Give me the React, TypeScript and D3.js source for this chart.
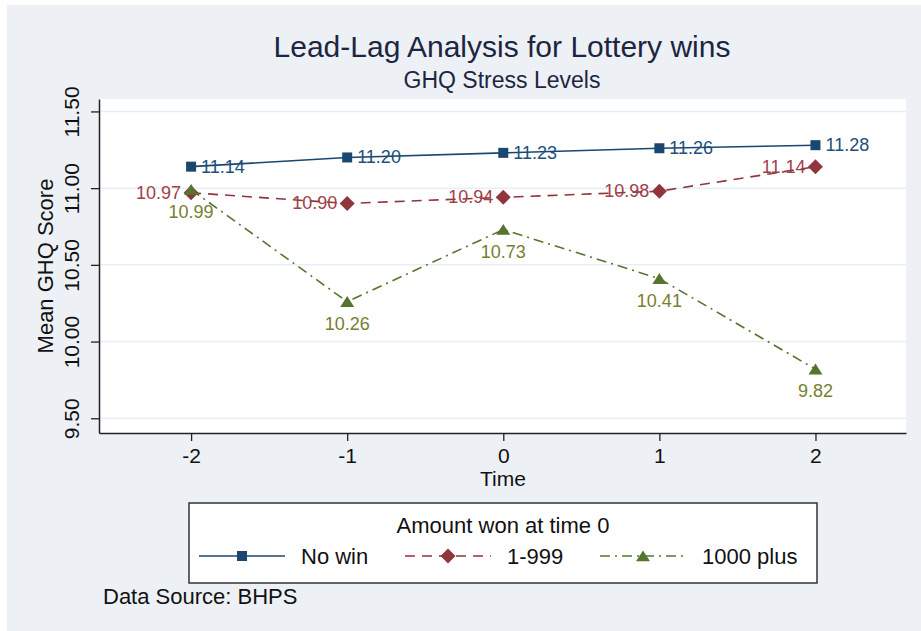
import React, { useRef, useEffect } from "react";
import * as d3 from "d3";

const times = [-2, -1, 0, 1, 2];
const noWin = [11.14, 11.2, 11.23, 11.26, 11.28];
const smallWin = [10.97, 10.9, 10.94, 10.98, 11.14];
const bigWin = [10.99, 10.26, 10.73, 10.41, 9.82];
const seriesNames = ["No win", "1-999", "1000 plus"];
const yTicks = [9.5, 10, 10.5, 11, 11.5];
const xTicks = [-2, -1, 0, 1, 2];

const FONT = "'Liberation Sans', Arial, sans-serif";

// custom marker shapes for d3.symbol (size = half-width in px)
const squareType = {
  draw(ctx: any, r: number) {
    ctx.rect(-r, -r, 2 * r, 2 * r);
  },
};
const diamondType = {
  draw(ctx: any, r: number) {
    ctx.moveTo(0, -r);
    ctx.lineTo(r, 0);
    ctx.lineTo(0, r);
    ctx.lineTo(-r, 0);
    ctx.closePath();
  },
};
const triangleType = {
  draw(ctx: any, r: number) {
    ctx.moveTo(0, -r * 0.8);
    ctx.lineTo(r, r * 0.75);
    ctx.lineTo(-r, r * 0.75);
    ctx.closePath();
  },
};

const styles = [
  { values: noWin, color: "#1a476f", label: "#1f4f7a", dash: null, symbol: squareType, size: 5, pos: "right" },
  { values: smallWin, color: "#90353b", label: "#a0404a", dash: "10,7", symbol: diamondType, size: 7.5, pos: "left" },
  { values: bigWin, color: "#55752f", label: "#77802f", dash: "10,5,2,5", symbol: triangleType, size: 7, pos: "below" },
];

const App: React.FC = () => {
  const ref = useRef<SVGSVGElement | null>(null);

  useEffect(() => {
    if (!ref.current) return;
    const svg = d3.select(ref.current);
    svg.selectAll("*").remove();

    const width = 921;
    const height = 631;
    const plot = { left: 99, right: 906, top: 99, bottom: 433 };

    svg.attr("width", width).attr("height", height).style("font-family", FONT);

    svg.append("rect").attr("width", width).attr("height", height).attr("fill", "#ffffff");
    svg
      .append("rect")
      .attr("x", 7)
      .attr("y", 5)
      .attr("width", width - 7)
      .attr("height", height - 5)
      .attr("fill", "#edf1f6");

    svg
      .append("rect")
      .attr("x", plot.left)
      .attr("y", plot.top)
      .attr("width", plot.right - plot.left)
      .attr("height", plot.bottom - plot.top)
      .attr("fill", "#ffffff");

    const x = d3.scaleLinear().domain([-2.59, 2.58]).range([plot.left, plot.right]);
    const y = d3.scaleLinear().domain([9.404, 11.581]).range([plot.bottom, plot.top]);

    // grid
    svg
      .append("g")
      .selectAll("line")
      .data(yTicks)
      .join("line")
      .attr("x1", plot.left)
      .attr("x2", plot.right)
      .attr("y1", (d) => y(d))
      .attr("y2", (d) => y(d))
      .attr("stroke", "#e8eff4")
      .attr("stroke-width", 1.5);

    // y axis
    const yAxis = svg
      .append("g")
      .attr("transform", `translate(${plot.left},0)`)
      .call(d3.axisLeft(y).tickValues(yTicks).tickFormat(d3.format(".2f")).tickSize(8).tickSizeOuter(0));
    yAxis.select(".domain").attr("stroke", "#222").attr("stroke-width", 1.5);
    yAxis.selectAll(".tick line").attr("stroke", "#222").attr("stroke-width", 1.3);
    yAxis
      .selectAll(".tick text")
      .attr("transform", "rotate(-90)")
      .attr("x", 0)
      .attr("y", -20)
      .attr("dy", 0)
      .attr("text-anchor", "middle")
      .attr("fill", "#111")
      .style("font-size", "21px")
      .style("font-family", FONT);

    // x axis
    const xAxis = svg
      .append("g")
      .attr("transform", `translate(0,${plot.bottom})`)
      .call(d3.axisBottom(x).tickValues(xTicks).tickFormat(d3.format("d")).tickSize(8).tickSizeOuter(0));
    xAxis.select(".domain").attr("stroke", "#222").attr("stroke-width", 1.5);
    xAxis.selectAll(".tick line").attr("stroke", "#222").attr("stroke-width", 1.3);
    xAxis
      .selectAll(".tick text")
      .attr("y", 30)
      .attr("dy", 0)
      .attr("fill", "#111")
      .style("font-size", "21px")
      .style("font-family", FONT)
      .text((d: any) => (d < 0 ? `-${Math.abs(d)}` : `${d}`));

    // titles
    svg
      .append("text")
      .attr("x", 502)
      .attr("y", 57)
      .attr("text-anchor", "middle")
      .attr("fill", "#1c2640")
      .style("font-size", "30px")
      .text("Lead-Lag Analysis for Lottery wins");
    svg
      .append("text")
      .attr("x", 502)
      .attr("y", 88)
      .attr("text-anchor", "middle")
      .attr("fill", "#1c2640")
      .style("font-size", "23px")
      .text("GHQ Stress Levels");
    svg
      .append("text")
      .attr("x", 503)
      .attr("y", 486)
      .attr("text-anchor", "middle")
      .attr("fill", "#111")
      .style("font-size", "21px")
      .text("Time");
    svg
      .append("text")
      .attr("transform", `translate(53,${(plot.top + plot.bottom) / 2}) rotate(-90)`)
      .attr("text-anchor", "middle")
      .attr("fill", "#111")
      .style("font-size", "22px")
      .text("Mean GHQ Score");

    const line = d3
      .line<number>()
      .x((_, i) => x(times[i]))
      .y((d) => y(d));

    styles.forEach((s) => {
      const g = svg.append("g");
      g.append("path")
        .datum(s.values)
        .attr("fill", "none")
        .attr("stroke", s.color)
        .attr("stroke-width", 1.6)
        .attr("stroke-dasharray", s.dash)
        .attr("d", line);
      g.selectAll("path.m")
        .data(s.values)
        .join("path")
        .attr("class", "m")
        .attr("transform", (d, i) => `translate(${x(times[i])},${y(d)})`)
        .attr("d", d3.symbol(s.symbol as any, s.size)())
        .attr("fill", s.color);
      g.selectAll("text")
        .data(s.values)
        .join("text")
        .attr("x", (d, i) => x(times[i]) + (s.pos === "right" ? 10 : s.pos === "left" ? -10 : 0))
        .attr("y", (d) => y(d) + (s.pos === "below" ? 28 : 6))
        .attr("text-anchor", s.pos === "right" ? "start" : s.pos === "left" ? "end" : "middle")
        .attr("fill", s.label)
        .style("font-size", "18px")
        .text((d) => d3.format(".2f")(d));
    });

    // legend
    const lg = svg.append("g");
    lg.append("rect")
      .attr("x", 189)
      .attr("y", 503)
      .attr("width", 628)
      .attr("height", 80)
      .attr("fill", "#ffffff")
      .attr("stroke", "#333")
      .attr("stroke-width", 1.5);
    lg.append("text")
      .attr("x", 503)
      .attr("y", 533)
      .attr("text-anchor", "middle")
      .attr("fill", "#111")
      .style("font-size", "22px")
      .text("Amount won at time 0");

    const keyX = [199, 405, 600];
    const keyY = 556;
    styles.forEach((s, i) => {
      const x0 = keyX[i];
      lg.append("line")
        .attr("x1", x0)
        .attr("x2", x0 + 86)
        .attr("y1", keyY)
        .attr("y2", keyY)
        .attr("stroke", s.color)
        .attr("stroke-width", 1.6)
        .attr("stroke-dasharray", s.dash);
      lg.append("path")
        .attr("transform", `translate(${x0 + 43},${keyY})`)
        .attr("d", d3.symbol(s.symbol as any, s.size)())
        .attr("fill", s.color);
      lg.append("text")
        .attr("x", x0 + 102)
        .attr("y", keyY + 8)
        .attr("fill", "#111")
        .style("font-size", "22px")
        .text(seriesNames[i]);
    });

    svg
      .append("text")
      .attr("x", 103)
      .attr("y", 604)
      .attr("fill", "#111")
      .style("font-size", "22px")
      .text("Data Source: BHPS");
  }, []);

  return <svg ref={ref} style={{ position: "absolute", left: 0, top: 0, display: "block" }} />;
};

export default App;
